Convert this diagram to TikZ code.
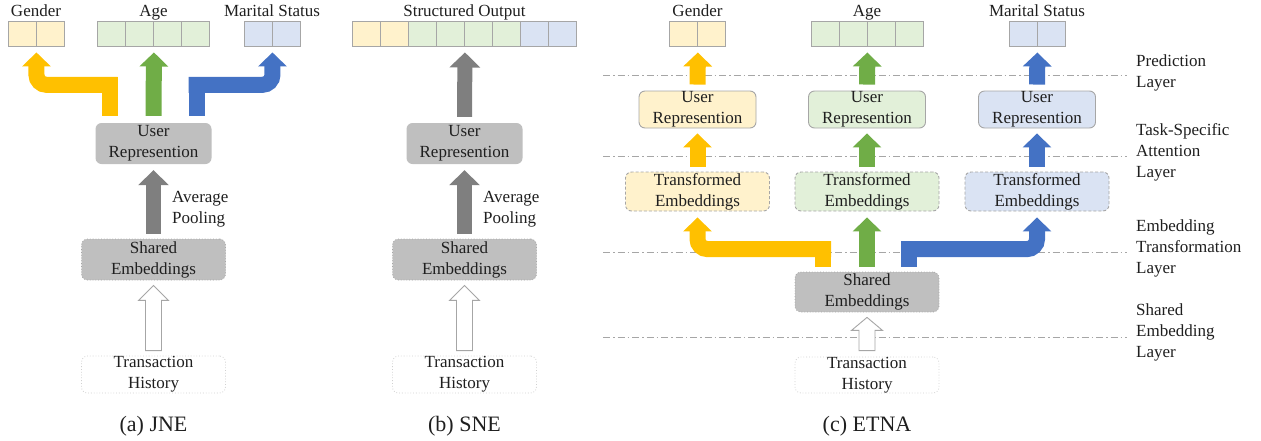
\documentclass[tikz,border=0pt]{standalone}
\usepackage{fontspec}
\setmainfont{Liberation Serif}
\usetikzlibrary{arrows.meta,calc}
\definecolor{yl}{HTML}{FFF2CC}
\definecolor{gl}{HTML}{E2F0D9}
\definecolor{bl}{HTML}{DAE3F3}
\definecolor{yd}{HTML}{FFC000}
\definecolor{gd}{HTML}{70AD47}
\definecolor{bd}{HTML}{4472C4}
\definecolor{gr}{HTML}{7F7F7F}
\definecolor{boxg}{HTML}{BFBFBF}
\definecolor{edge}{HTML}{A6A6A6}
\definecolor{lite}{HTML}{D0D0D0}
\begin{document}
\begin{tikzpicture}[x=1pt,y=-1pt,
  txt/.style={font=\fontsize{17}{21}\selectfont, text=black!88, align=center, inner sep=0pt},
  capt/.style={font=\fontsize{22}{26}\selectfont, text=black!88, inner sep=0pt},
  cell/.style={draw=edge, line width=0.9pt, minimum width=28pt, minimum height=25pt, inner sep=0pt},
  box/.style={txt, rounded corners=6pt, minimum width=#1},
  box/.default=144pt,
  urgrey/.style={box=116pt, fill=boxg, minimum height=41pt},
  segrey/.style={box=144pt, fill=boxg, draw=edge, dotted, line width=0.8pt, minimum height=41pt},
  thbox/.style={box=144pt, fill=white, draw=lite, dotted, line width=0.8pt, minimum height=37pt},
  urcol/.style={box=117pt, fill=#1, draw=edge, line width=0.9pt, minimum height=37pt},
  tecol/.style={box=144pt, fill=#1, draw=edge, dash pattern=on 3pt off 2pt, line width=0.9pt, minimum height=39pt},
  fat/.style={draw=#1, line width=16pt},
  fatarr/.style={draw=#1, line width=16pt, -{Triangle[width=28pt,length=14pt]}},
  greyarr/.style={draw=gr, line width=15pt, -{Triangle[width=30pt,length=15pt]}},
  bent/.style={fatarr=#1, rounded corners=10pt},
  hollow/.style={draw=edge, line width=0.9pt, fill=white},
  layerline/.style={draw=edge, line width=0.8pt, dash pattern=on 7pt off 3pt on 1.5pt off 3pt},
  lbl/.style={txt, align=left, anchor=west}
]
\useasboundingbox (0,0) rectangle (1261,440);

% ---------------- layer separators (c) ----------------
\draw[layerline] (603,75) -- (1127,75);
\draw[layerline] (603,156) -- (1127,156);
\draw[layerline] (603,252) -- (1127,252);
\draw[layerline] (603,337) -- (1127,337);
\node[lbl] (l1) at (1136,72.5) {Prediction\\Layer};
\node[lbl] (l2) at (1136,152) {Task-Specific\\Attention\\Layer};
\node[lbl] (l3) at (1136,248.5) {Embedding\\Transformation\\Layer};
\node[lbl] (l4) at (1136,332.5) {Shared\\Embedding\\Layer};

% ================= (a) JNE =================
\foreach \i/\x in {1/22,2/50} \node[cell, fill=yl] (ag\i) at (\x,33.5) {};
\foreach \i/\x in {1/111.5,2/139.5,3/167.5,4/195.5} \node[cell, fill=gl] (aa\i) at (\x,33.5) {};
\foreach \i/\x in {1/258,2/286} \node[cell, fill=bl] (am\i) at (\x,33.5) {};
\node[txt, anchor=base] (agl) at (36,16) {Gender};
\node[txt, anchor=base] (aal) at (153.5,16) {Age};
\node[txt, anchor=base] (aml) at (272,16) {Marital Status};
\node[urgrey] (urA) at (153.5,143.5) {User\\Represention};
\node[segrey] (seA) at (153.5,259.5) {Shared\\Embeddings};
\node[thbox] (thA) at (153.5,374.5) {Transaction\\History};
\node[lbl] (apA) at (172,209) {Average\\Pooling};
\node[capt] (capA) at (153.5,426) {(a) JNE};

\coordinate (ayc) at ($(urA.north)+(-44,-38)$);
\coordinate (abc) at ($(urA.north)+(43,-38)$);
\draw[fat=yd] ($(urA.north)+(-44,-7)$) -- ($(ayc)+(0,-8)$);
\draw[bent=yd] ($(ayc)+(8,0)$) -- (ayc -| ag1.south east) -- ($(ag1.south east)+(0,6)$);
\draw[fat=bd] ($(urA.north)+(43,-7)$) -- ($(abc)+(0,-8)$);
\draw[bent=bd] ($(abc)+(-8,0)$) -- (abc -| am1.south east) -- ($(am1.south east)+(0,6)$);
\draw[fatarr=gd] ($(urA.north)+(0,-7)$) -- ($(aa2.south east)+(0,6)$);
\draw[greyarr] ($(seA.north)+(0,-5)$) -- ($(urA.south)+(0,6)$);
\draw[hollow] let \p1=(thA.north), \p2=(seA.south) in
  (\x1-8pt,\y1+5pt) -- (\x1-8pt,\y2-20pt) -- (\x1-15pt,\y2-20pt) -- (\x1,\y2-5pt)
  -- (\x1+15pt,\y2-20pt) -- (\x1+8pt,\y2-20pt) -- (\x1+8pt,\y1+5pt) -- cycle;

% ================= (b) SNE =================
\foreach \i/\x/\c in {1/366.5/yl,2/394.5/yl,3/422.5/gl,4/450.5/gl,5/478.5/gl,6/506.5/gl,7/534.5/bl,8/562.5/bl}
  \node[cell, fill=\c] (bs\i) at (\x,33.5) {};
\node[txt, anchor=base] (bsl) at (464.5,16) {Structured Output};
\node[urgrey] (urB) at (464.5,143.5) {User\\Represention};
\node[segrey] (seB) at (464.5,259.5) {Shared\\Embeddings};
\node[thbox] (thB) at (464.5,374.5) {Transaction\\History};
\node[lbl] (apB) at (483,209) {Average\\Pooling};
\node[capt] (capB) at (464.5,426) {(b) SNE};
\draw[greyarr] ($(urB.north)+(0,-6)$) -- ($(bs4.south east)+(0,6)$);
\draw[greyarr] ($(seB.north)+(0,-5)$) -- ($(urB.south)+(0,6)$);
\draw[hollow] let \p1=(thB.north), \p2=(seB.south) in
  (\x1-8pt,\y1+5pt) -- (\x1-8pt,\y2-20pt) -- (\x1-15pt,\y2-20pt) -- (\x1,\y2-5pt)
  -- (\x1+15pt,\y2-20pt) -- (\x1+8pt,\y2-20pt) -- (\x1+8pt,\y1+5pt) -- cycle;

% ================= (c) ETNA =================
\foreach \i/\x in {1/683.5,2/711.5} \node[cell, fill=yl] (cg\i) at (\x,33.5) {};
\foreach \i/\x in {1/825,2/853,3/881,4/909} \node[cell, fill=gl] (ca\i) at (\x,33.5) {};
\foreach \i/\x in {1/1023,2/1051} \node[cell, fill=bl] (cm\i) at (\x,33.5) {};
\node[txt, anchor=base] (cgl) at (697.5,16) {Gender};
\node[txt, anchor=base] (cal) at (867,16) {Age};
\node[txt, anchor=base] (cml) at (1037,16) {Marital Status};

\node[urcol=yl] (urY) at (697.5,109.5) {User\\Represention};
\node[urcol=gl] (urG) at (867,109.5) {User\\Represention};
\node[urcol=bl] (urBl) at (1037,109.5) {User\\Represention};
\node[tecol=yl] (teY) at (697.5,191.5) {Transformed\\Embeddings};
\node[tecol=gl] (teG) at (867,191.5) {Transformed\\Embeddings};
\node[tecol=bl] (teBl) at (1037,191.5) {Transformed\\Embeddings};
\node[segrey, minimum height=40pt] (seC) at (867,292) {Shared\\Embeddings};
\node[thbox, minimum height=36pt] (thC) at (867,375) {Transaction\\History};
\node[capt] (capC) at (867,426) {(c) ETNA};

\draw[fatarr=yd] ($(urY.north)+(0,-6)$) -- ($(cg1.south east)+(0,6)$);
\draw[fatarr=gd] ($(urG.north)+(0,-6)$) -- ($(ca2.south east)+(0,6)$);
\draw[fatarr=bd] ($(urBl.north)+(0,-6)$) -- ($(cm1.south east)+(0,6)$);
\draw[fatarr=yd] ($(teY.north)+(0,-5)$) -- ($(urY.south)+(0,5)$);
\draw[fatarr=gd] ($(teG.north)+(0,-5)$) -- ($(urG.south)+(0,5)$);
\draw[fatarr=bd] ($(teBl.north)+(0,-5)$) -- ($(urBl.south)+(0,5)$);

\coordinate (cyc) at ($(seC.north)+(-44,-22.5)$);
\coordinate (cbc) at ($(seC.north)+(42,-22.5)$);
\draw[fat=yd] ($(seC.north)+(-44,-5)$) -- ($(cyc)+(0,-8)$);
\draw[bent=yd] ($(cyc)+(8,0)$) -- (cyc -| teY.south) -- ($(teY.south)+(0,6)$);
\draw[fat=bd] ($(seC.north)+(42,-5)$) -- ($(cbc)+(0,-8)$);
\draw[bent=bd] ($(cbc)+(-8,0)$) -- (cbc -| teBl.south) -- ($(teBl.south)+(0,6)$);
\draw[fatarr=gd] ($(seC.north)+(0,-5)$) -- ($(teG.south)+(0,6)$);
\draw[hollow] let \p1=(thC.north), \p2=(seC.south) in
  (\x1-8pt,\y1+6pt) -- (\x1-8pt,\y2-18pt) -- (\x1-15.5pt,\y2-18pt) -- (\x1,\y2-5pt)
  -- (\x1+15.5pt,\y2-18pt) -- (\x1+8pt,\y2-18pt) -- (\x1+8pt,\y1+6pt) -- cycle;
\end{tikzpicture}
\end{document}
